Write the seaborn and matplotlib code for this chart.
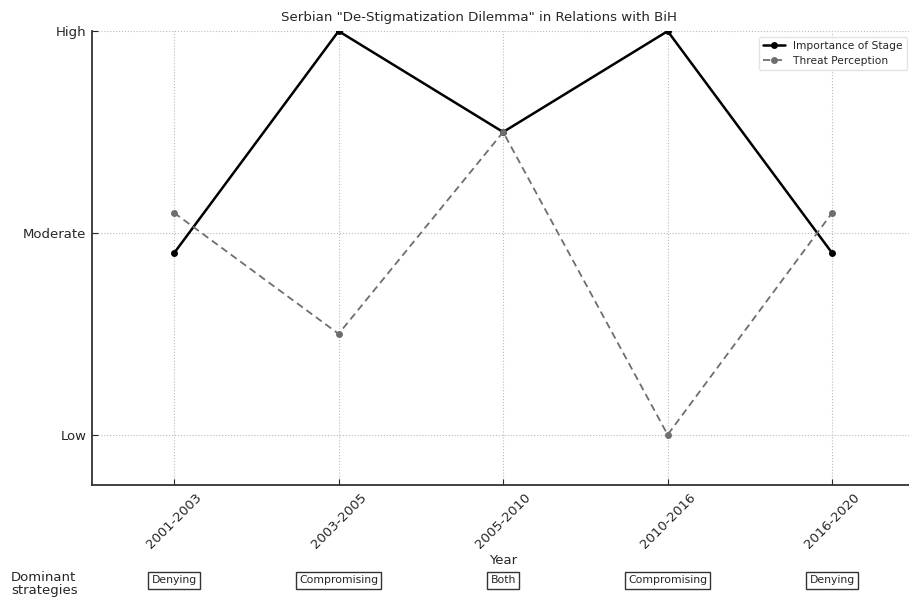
import pandas as pd
import matplotlib.pyplot as plt
import seaborn as sns

stages = ["2001-2003", "2003-2005", "2005-2010", "2010-2016", "2016-2020"]
importance = [1.9, 3.0, 2.5, 3.0, 1.9]
threat = [2.1, 1.5, 2.5, 1.0, 2.1]
level_ticks = [1, 2, 3]
level_labels = ["Low", "Moderate", "High"]
strategies = ["Denying", "Compromising", "Both", "Compromising", "Denying"]

df = pd.DataFrame({
    "stage": stages * 2,
    "pos": list(range(len(stages))) * 2,
    "value": importance + threat,
    "series": ["Importance of Stage"] * len(stages) + ["Threat Perception"] * len(stages),
})

sns.set_theme(style="white")
plt.rcParams["font.family"] = ["DejaVu Sans"]

fig = plt.figure(figsize=(9.09, 5.99), dpi=100)
ax = fig.add_axes([0.101, 0.19, 0.905, 0.758])

sns.lineplot(
    data=df,
    x="pos",
    y="value",
    hue="series",
    style="series",
    palette={"Importance of Stage": "black", "Threat Perception": "#6e6e6e"},
    dashes={"Importance of Stage": "", "Threat Perception": (4, 2.5)},
    markers={"Importance of Stage": "o", "Threat Perception": "o"},
    markersize=5,
    markeredgewidth=0,
    ax=ax,
)
for line in ax.lines:
    if line.get_color() == "black":
        line.set_linewidth(1.8)
    else:
        line.set_linewidth(1.3)

ax.set_xlim(-0.5, 4.5)
ax.set_ylim(0.75, 3.0)
ax.set_xticks(range(len(stages)))
ax.set_xticklabels(stages, rotation=45, fontsize=9.5)
ax.set_yticks(level_ticks)
ax.set_yticklabels(level_labels, fontsize=9.5)
ax.tick_params(direction="in", length=4, width=0.8, left=True, bottom=True, pad=4)
ax.grid(True, linestyle=":", color="#bbbbbb", linewidth=0.8)
for s in ["top", "right"]:
    ax.spines[s].set_visible(False)
for s in ["left", "bottom"]:
    ax.spines[s].set_color("#333333")
    ax.spines[s].set_linewidth(1.3)

ax.set_xlabel("Year", fontsize=9.5, labelpad=2)
ax.set_ylabel("")
fig.text(0.527, 0.97, 'Serbian "De-Stigmatization Dilemma" in Relations with BiH',
         ha="center", va="center", fontsize=9.6)

leg = ax.legend(loc="upper right", fontsize=7.7, frameon=True, borderaxespad=0.3,
                handlelength=2.0, labelspacing=0.45, bbox_to_anchor=(0.995, 0.995))
leg.get_frame().set_edgecolor("#dddddd")
leg.set_title(None)

fig.text(0.012, 0.025, "Dominant\nstrategies", ha="left", va="center", fontsize=9.5,
         linespacing=0.95)
for i, s in enumerate(strategies):
    x_fig = fig.transFigure.inverted().transform(ax.transData.transform((i, 0)))[0]
    fig.text(x_fig, 0.031, s, ha="center", va="center", fontsize=7.8,
             bbox=dict(boxstyle="square,pad=0.3", facecolor="white", edgecolor="#333333", linewidth=1))

fig.savefig("out.png", dpi=100)
